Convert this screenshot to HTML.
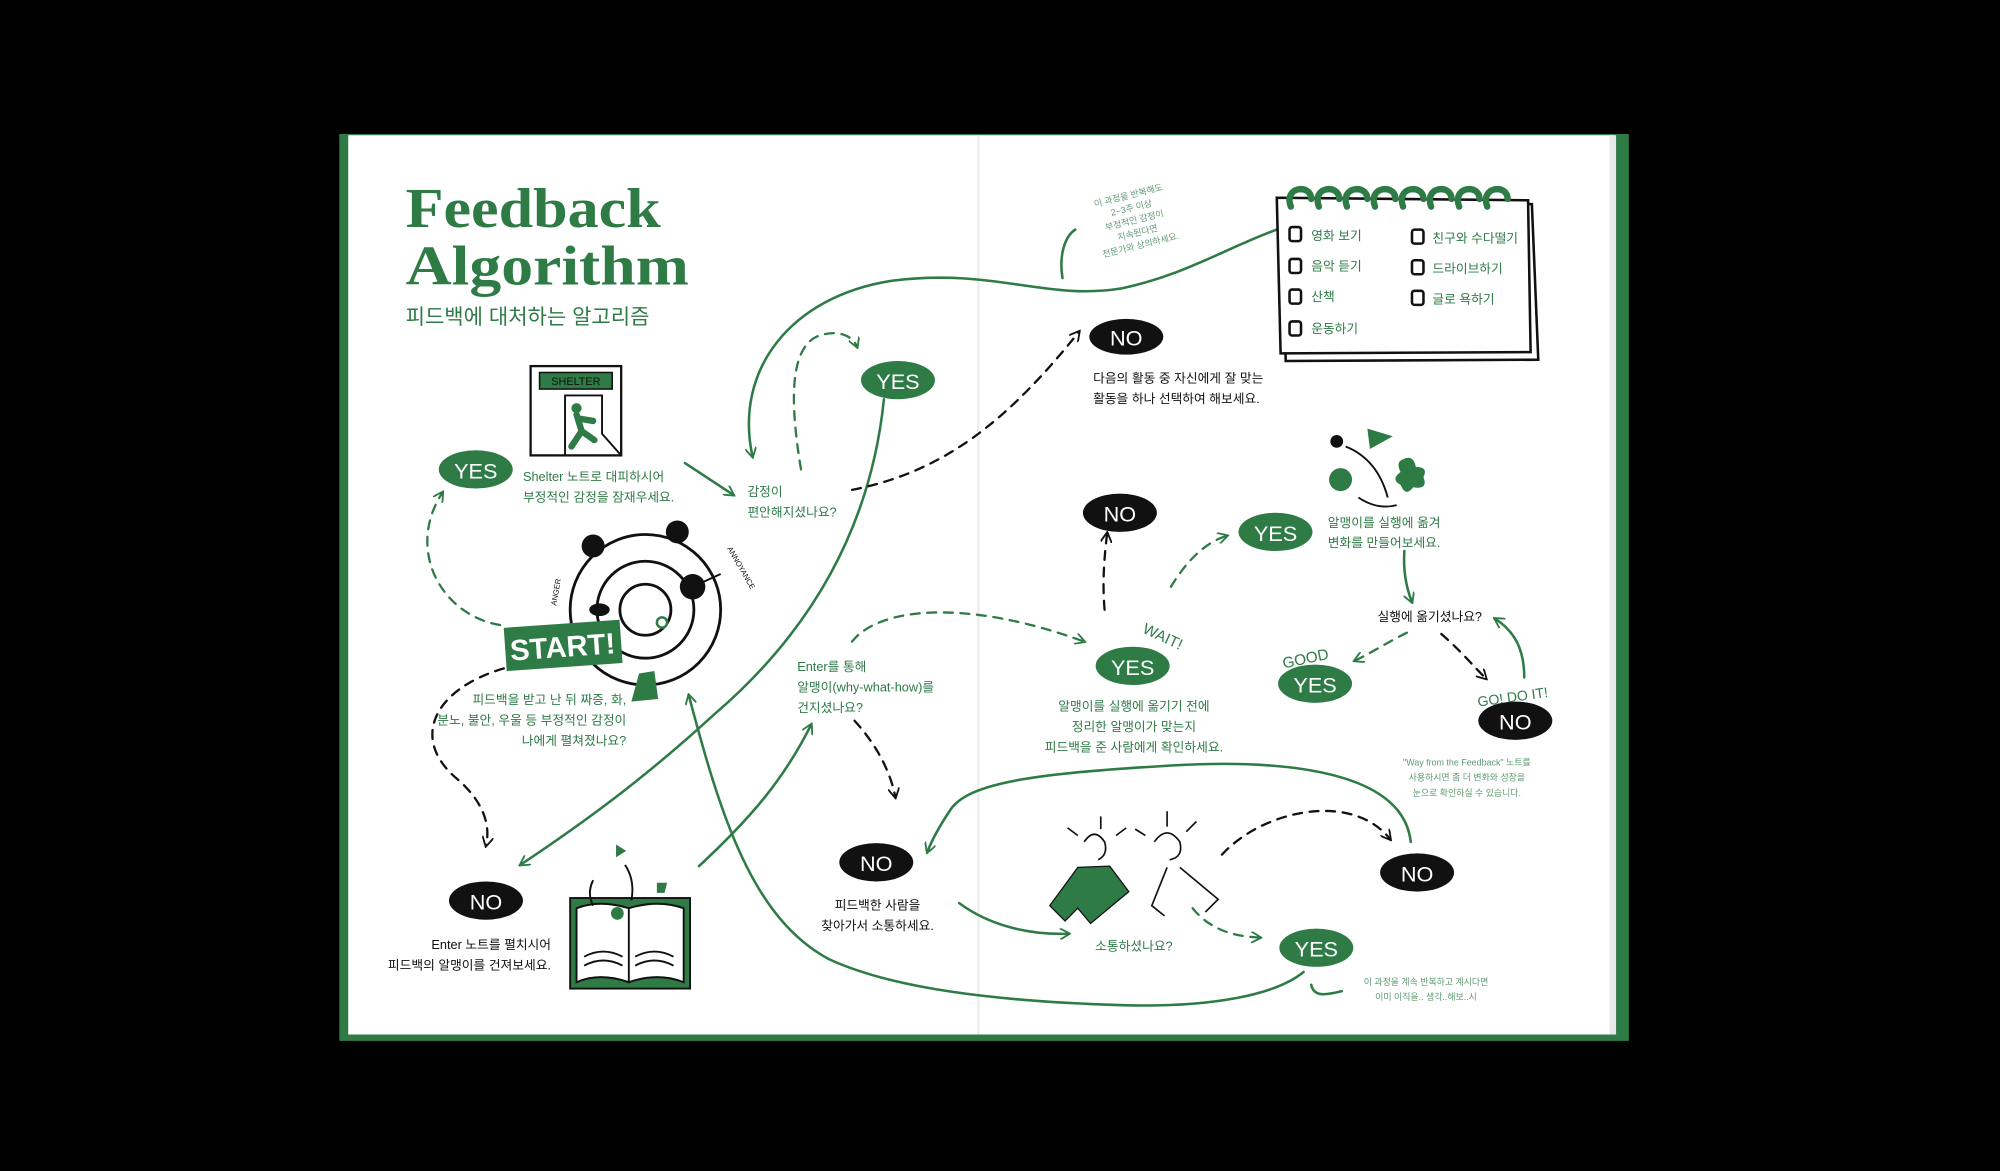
<!DOCTYPE html>
<html><head><meta charset="utf-8">
<style>
html,body{margin:0;padding:0;background:#000;}
svg{display:block}
text{font-family:"Liberation Sans","Noto Sans CJK KR",sans-serif;}
.g{fill:#2e7b46}
.k{fill:#111}
.t{font-size:10px}
.lab{font-size:17px;fill:#fff;font-family:"Liberation Sans",sans-serif;}
.hand{font-size:7px;fill:#5f9a70}
</style></head>
<body>
<svg width="2000" height="1171" viewBox="0 0 1568 918" preserveAspectRatio="none" xmlns="http://www.w3.org/2000/svg">
<defs>
<marker id="ag" viewBox="0 0 10 10" refX="8" refY="5" markerWidth="9" markerHeight="9" markerUnits="userSpaceOnUse" orient="auto"><path d="M0,0 L9,5 L0,10" fill="none" stroke="#2e7b46" stroke-width="1.6"/></marker>
<marker id="ak" viewBox="0 0 10 10" refX="8" refY="5" markerWidth="9" markerHeight="9" markerUnits="userSpaceOnUse" orient="auto"><path d="M0,0 L9,5 L0,10" fill="none" stroke="#111" stroke-width="1.6"/></marker>
</defs>
<rect width="1568" height="918" fill="#000"/>
<rect x="266" y="105" width="1011" height="711" fill="#2e7b46"/>
<rect x="273" y="106" width="993" height="705" fill="#fff"/>
<rect x="766" y="106" width="2" height="705" fill="#eee"/>
<rect x="1262" y="106" width="5" height="705" fill="#e8e8e8"/>

<text x="318" y="178" font-weight="bold" font-size="44" fill="#2e7b46" textLength="200" lengthAdjust="spacingAndGlyphs" style="font-family:'Liberation Serif',serif">Feedback</text>
<text x="318" y="223" font-weight="bold" font-size="44" fill="#2e7b46" textLength="222" lengthAdjust="spacingAndGlyphs" style="font-family:'Liberation Serif',serif">Algorithm</text>
<text x="318" y="254" font-size="16.5" class="g">피드백에 대처하는 알고리즘</text>

<g fill="none" stroke="#2e7b46" stroke-width="2" stroke-linecap="round">
<path d="M693,313 C682,420 630,500 560,560 C500,615 450,650 408,678" marker-end="url(#ag)"/>
<path d="M1001,180 C960,195 930,215 880,226 C820,236 780,210 700,220 C620,232 575,290 590,358" marker-end="url(#ag)"/>
<path d="M537,363 L575,388" marker-end="url(#ag)"/>
<path d="M548,679 C590,640 615,610 636,568" marker-end="url(#ag)"/>
<path d="M1022,762 C1000,780 950,790 880,788 C780,785 700,775 650,752 C590,720 565,640 540,545" marker-end="url(#ag)"/>
<path d="M1106,660 C1100,605 1010,595 920,600 C820,606 760,612 745,635 C735,650 730,660 727,668" marker-end="url(#ag)"/>
<path d="M752,708 C775,725 805,733 838,732" marker-end="url(#ag)"/>
<path d="M1101,432 C1100,448 1103,462 1107,472" marker-end="url(#ag)"/>
<path d="M1195,531 C1195,510 1188,495 1172,485" marker-end="url(#ag)"/>
<path d="M833,218 C830,200 835,185 843,180 M1028,772 C1030,782 1040,780 1052,777"/>
</g>
<g fill="none" stroke="#2e7b46" stroke-width="1.8" stroke-dasharray="7,6" stroke-linecap="round">
<path d="M392,490 C345,482 318,430 347,386" marker-end="url(#ag)"/>
<path d="M628,368 C620,320 618,275 640,264 C655,258 668,262 672,272" marker-end="url(#ag)"/>
<path d="M918,460 C930,440 945,425 962,420" marker-end="url(#ag)"/>
<path d="M668,503 C690,475 760,470 850,503" marker-end="url(#ag)"/>
<path d="M935,712 C948,728 965,734 988,735" marker-end="url(#ag)"/>
<path d="M1103,496 C1085,505 1075,512 1062,518" marker-end="url(#ag)"/>
</g>
<g fill="none" stroke="#111" stroke-width="1.8" stroke-dasharray="7,6" stroke-linecap="round">
<path d="M668,384 C740,370 790,330 846,260" marker-end="url(#ak)"/>
<path d="M866,478 C864,455 866,435 868,418" marker-end="url(#ak)"/>
<path d="M395,524 C340,540 320,580 360,612 C382,632 384,650 381,663" marker-end="url(#ak)"/>
<path d="M670,565 C688,585 698,605 702,625" marker-end="url(#ak)"/>
<path d="M1130,497 C1145,510 1155,522 1165,532" marker-end="url(#ak)"/>
<path d="M958,670 C990,635 1060,620 1090,658" marker-end="url(#ak)"/>
</g>

<g>
<ellipse cx="373" cy="368" rx="29" ry="15" fill="#2e7b46"/><text x="373" y="375" text-anchor="middle" class="lab">YES</text>
<ellipse cx="704" cy="298" rx="29" ry="15" fill="#2e7b46"/><text x="704" y="305" text-anchor="middle" class="lab">YES</text>
<ellipse cx="883" cy="264" rx="29" ry="14" fill="#111"/><text x="883" y="271" text-anchor="middle" class="lab">NO</text>
<ellipse cx="878" cy="402" rx="29" ry="15" fill="#111"/><text x="878" y="409" text-anchor="middle" class="lab">NO</text>
<ellipse cx="1000" cy="417" rx="29" ry="15" fill="#2e7b46"/><text x="1000" y="424" text-anchor="middle" class="lab">YES</text>
<ellipse cx="888" cy="522" rx="29" ry="15" fill="#2e7b46"/><text x="888" y="529" text-anchor="middle" class="lab">YES</text>
<ellipse cx="1031" cy="536" rx="29" ry="15" fill="#2e7b46"/><text x="1031" y="543" text-anchor="middle" class="lab">YES</text>
<ellipse cx="1188" cy="565" rx="29" ry="15" fill="#111"/><text x="1188" y="572" text-anchor="middle" class="lab">NO</text>
<ellipse cx="381" cy="706" rx="29" ry="15" fill="#111"/><text x="381" y="713" text-anchor="middle" class="lab">NO</text>
<ellipse cx="687" cy="676" rx="29" ry="15" fill="#111"/><text x="687" y="683" text-anchor="middle" class="lab">NO</text>
<ellipse cx="1111" cy="684" rx="29" ry="15" fill="#111"/><text x="1111" y="691" text-anchor="middle" class="lab">NO</text>
<ellipse cx="1032" cy="743" rx="29" ry="15" fill="#2e7b46"/><text x="1032" y="750" text-anchor="middle" class="lab">YES</text>
<text x="893" y="505" font-size="12" class="g" transform="rotate(25 915 505)">WAIT!</text>
<text x="1005" y="520" font-size="12" class="g" transform="rotate(-12 1025 515)">GOOD</text>
<text x="1158" y="550" font-size="11" class="g" transform="rotate(-8 1187 545)">GO! DO IT!</text>
</g>

<g class="t">
<text x="410" y="377" class="g">Shelter 노트로 대피하시어</text>
<text x="410" y="393" class="g">부정적인 감정을 잠재우세요.</text>
<text x="586" y="389" class="g">감정이</text>
<text x="586" y="405" class="g">편안해지셨나요?</text>
<text x="857" y="300" class="k">다음의 활동 중 자신에게 잘 맞는</text>
<text x="857" y="316" class="k">활동을 하나 선택하여 해보세요.</text>
<text x="1041" y="413" class="g">알맹이를 실행에 옮겨</text>
<text x="1041" y="429" class="g">변화를 만들어보세요.</text>
<text x="1080" y="487" class="k">실행에 옮기셨나요?</text>
<text x="625" y="526" class="g">Enter를 통해</text>
<text x="625" y="542" class="g">알맹이(why-what-how)를</text>
<text x="625" y="558" class="g">건지셨나요?</text>
<text x="889" y="557" text-anchor="middle" class="g">알맹이를 실행에 옮기기 전에</text>
<text x="889" y="573" text-anchor="middle" class="g">정리한 알맹이가 맞는지</text>
<text x="889" y="589" text-anchor="middle" class="g">피드백을 준 사람에게 확인하세요.</text>
<text x="491" y="552" text-anchor="end" class="g">피드백을 받고 난 뒤 짜증, 화,</text>
<text x="491" y="568" text-anchor="end" class="g">분노, 불안, 우울 등 부정적인 감정이</text>
<text x="491" y="584" text-anchor="end" class="g">나에게 펼쳐졌나요?</text>
<text x="432" y="744" text-anchor="end" class="k">Enter 노트를 펼치시어</text>
<text x="432" y="760" text-anchor="end" class="k">피드백의 알맹이를 건져보세요.</text>
<text x="688" y="713" text-anchor="middle" class="k">피드백한 사람을</text>
<text x="688" y="729" text-anchor="middle" class="k">찾아가서 소통하세요.</text>
<text x="889" y="745" text-anchor="middle" class="g">소통하셨나요?</text>
</g>
<g class="hand" transform="rotate(-14 890 175)">
<text x="890" y="155" text-anchor="middle">이 과정을 반복해도</text>
<text x="890" y="165" text-anchor="middle">2~3주 이상</text>
<text x="890" y="175" text-anchor="middle">부정적인 감정이</text>
<text x="890" y="185" text-anchor="middle">지속된다면</text>
<text x="890" y="195" text-anchor="middle">전문가와 상의하세요.</text>
</g>
<g class="hand">
<text x="1150" y="600" text-anchor="middle">"Way from the Feedback" 노트를</text>
<text x="1150" y="612" text-anchor="middle">사용하시면 좀 더 변화와 성장을</text>
<text x="1150" y="624" text-anchor="middle">눈으로 확인하실 수 있습니다.</text>
<text x="1118" y="772" text-anchor="middle">이 과정을 계속 반복하고 계시다면</text>
<text x="1118" y="784" text-anchor="middle">이미 이직을.. 생각..해보..시</text>
</g>

<g fill="none" stroke="#111" stroke-width="2">
<path d="M1005,158 L1201,160 L1206,282 L1008,283 Z"/>
<path d="M1001,155 L1198,157 L1200,276 L1004,277 Z" fill="#fff"/>
</g>
<g fill="none" stroke="#2e7b46" stroke-width="5" stroke-linecap="round">
<path d="M1012,162 c-6,-16 16,-18 16,-6 M1034,162 c-6,-16 16,-18 16,-6 M1056,162 c-6,-16 16,-18 16,-6 M1078,162 c-6,-16 16,-18 16,-6 M1100,162 c-6,-16 16,-18 16,-6 M1122,162 c-6,-16 16,-18 16,-6 M1144,162 c-6,-16 16,-18 16,-6 M1166,162 c-6,-16 16,-18 16,-6"/>
</g>
<g fill="#fff" stroke="#111" stroke-width="2">
<rect x="1011" y="178" width="9" height="11" rx="2"/><rect x="1011" y="203" width="9" height="11" rx="2"/><rect x="1011" y="227" width="9" height="11" rx="2"/><rect x="1011" y="252" width="9" height="11" rx="2"/>
<rect x="1107" y="180" width="9" height="11" rx="2"/><rect x="1107" y="204" width="9" height="11" rx="2"/><rect x="1107" y="228" width="9" height="11" rx="2"/>
</g>
<g class="t g">
<text x="1028" y="188">영화 보기</text><text x="1028" y="212">음악 듣기</text><text x="1028" y="236">산책</text><text x="1028" y="261">운동하기</text>
<text x="1123" y="190">친구와 수다떨기</text><text x="1123" y="214">드라이브하기</text><text x="1123" y="238">글로 욕하기</text>
</g>

<rect x="416" y="287" width="71" height="70" fill="#fff" stroke="#111" stroke-width="1.8"/>
<rect x="423" y="292" width="57" height="13" fill="#2e7b46" stroke="#111" stroke-width="1.2"/>
<text x="451.5" y="302" text-anchor="middle" font-size="8.5" fill="#111">SHELTER</text>
<path d="M443,357 L443,310 L472,310 L472,340 L487,357" fill="none" stroke="#111" stroke-width="1.5"/>
<circle cx="452" cy="320" r="4" fill="#2e7b46"/>
<path d="M452,325 L456,338 L448,350 M456,338 L466,345 M453,328 L465,330" stroke="#2e7b46" stroke-width="5" fill="none" stroke-linecap="round"/>

<g fill="none" stroke="#111" stroke-width="2.2">
<circle cx="506" cy="478" r="59"/><circle cx="506" cy="478" r="38"/><circle cx="506" cy="478" r="20"/>
</g>
<circle cx="519" cy="488" r="4" fill="#fff" stroke="#2e7b46" stroke-width="2"/>
<circle cx="465" cy="428" r="9" fill="#111"/><circle cx="531" cy="417" r="9" fill="#111"/>
<circle cx="543" cy="460" r="10" fill="#111"/><ellipse cx="470" cy="478" rx="8" ry="5" fill="#111"/>
<path d="M543,460 L565,450" stroke="#111" stroke-width="1.5"/>
<text x="0" y="0" font-size="6" fill="#111" transform="translate(436,475) rotate(-80)">ANGER</text>
<text x="0" y="0" font-size="6" fill="#111" transform="translate(570,430) rotate(60)">ANNOYANCE</text>
<path d="M501,528 L513,526 L516,548 L495,550 Z" fill="#2e7b46"/>
<g transform="rotate(-4 441 506)">
<rect x="396" y="489" width="91" height="34" fill="#2e7b46"/>
<text x="441" y="515" text-anchor="middle" font-size="23" fill="#fff" font-weight="bold">START!</text>
</g>

<rect x="447" y="704" width="94" height="71" fill="#2e7b46" stroke="#111" stroke-width="1.5"/>
<path d="M452,712 Q470,705 493,712 L493,770 Q470,762 452,770 Z M493,712 Q516,705 536,712 L536,770 Q516,762 493,770 Z" fill="#fff" stroke="#111" stroke-width="1.5"/>
<path d="M458,750 q15,-8 30,0 M458,757 q15,-8 30,0 M498,750 q15,-8 30,0 M498,757 q15,-8 30,0" fill="none" stroke="#111" stroke-width="1.5"/>
<circle cx="484" cy="716" r="5" fill="#2e7b46"/>
<path d="M483,662 l8,5 l-8,5 z" fill="#2e7b46"/><path d="M515,692 l8,0 l-2,8 l-6,0z" fill="#2e7b46"/>
<path d="M490,678 q8,12 5,28 M465,690 q-5,10 0,20" fill="none" stroke="#111" stroke-width="1.5"/>

<circle cx="1048" cy="346" r="5" fill="#111"/>
<path d="M1072,336 L1092,342 L1074,352 Z" fill="#2e7b46"/>
<circle cx="1051" cy="376" r="9" fill="#2e7b46"/>
<path d="M1100,360 q8,-4 10,6 q10,0 6,8 q4,10 -8,8 q-6,8 -10,-2 q-8,-4 0,-10 q-4,-8 2,-10z" fill="#2e7b46"/>
<path d="M1055,350 q25,10 33,40 M1065,390 q15,10 30,6" fill="none" stroke="#111" stroke-width="1.5"/>

<g fill="none" stroke="#111" stroke-width="1.3">
<path d="M850,660 q8,-12 16,0 q3,10 -5,14 M863,650 l0,-10 M845,655 l-8,-6 M875,655 l8,-6"/>
<path d="M905,660 q10,-14 20,0 q3,12 -8,14 M915,648 l0,-12 M930,652 l8,-8 M898,655 l-8,-5"/>
<path d="M915,680 l-12,30 l10,8 M925,680 l30,25 l-10,10"/>
</g>
<path d="M845,680 l-22,30 l12,12 l10,-10 l10,12 l30,-25 l-15,-20 z" fill="#2e7b46" stroke="#111" stroke-width="1"/>
</svg>
</body></html>
